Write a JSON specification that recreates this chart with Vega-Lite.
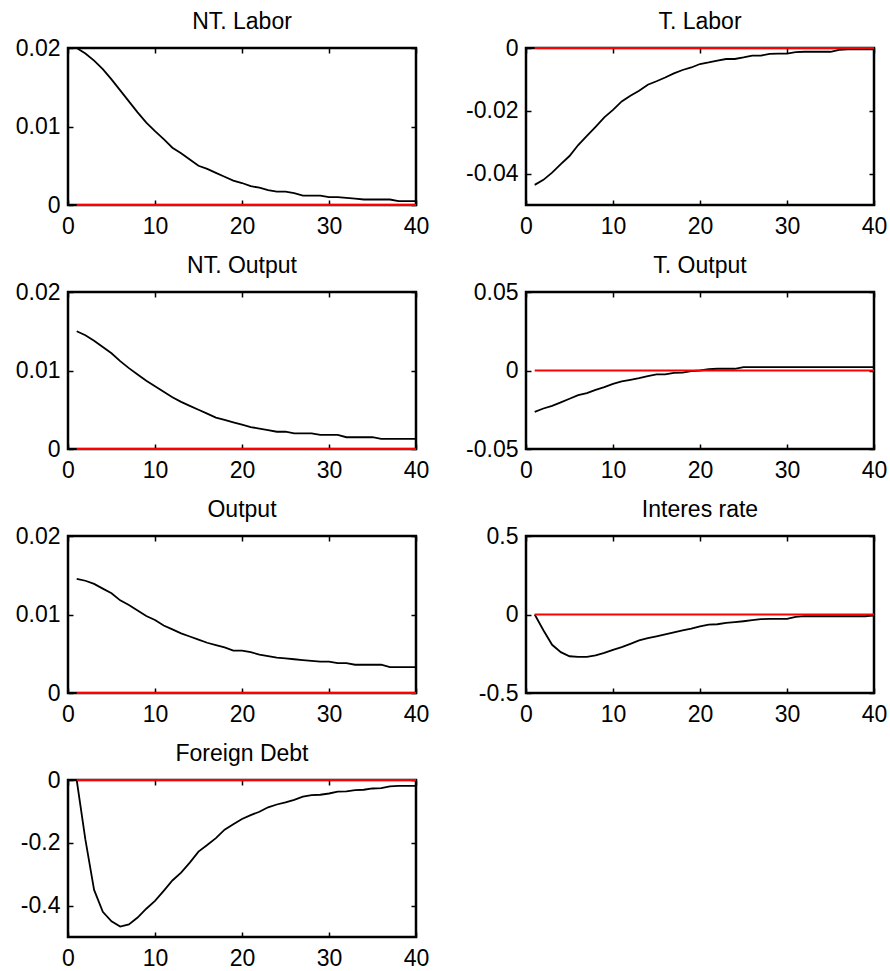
{
  "$schema": "https://vega.github.io/schema/vega-lite/v6.json",
  "background": "white",
  "padding": {"left": 13, "top": 9, "right": 5, "bottom": 5},
  "data": {"values": [
    {"t":1,"ntl":0.0200,"tl":-0.0436,"nto":0.0150,"to":-0.0263,"out":0.01455,"ir":0,"fd":0},
    {"t":2,"ntl":0.0193,"tl":-0.0420,"nto":0.0145,"to":-0.0242,"out":0.0143,"ir":-0.100,"fd":-0.190},
    {"t":3,"ntl":0.0184,"tl":-0.0397,"nto":0.0138,"to":-0.0225,"out":0.0139,"ir":-0.193,"fd":-0.350},
    {"t":4,"ntl":0.0173,"tl":-0.0370,"nto":0.0130,"to":-0.0203,"out":0.0133,"ir":-0.240,"fd":-0.420},
    {"t":5,"ntl":0.0160,"tl":-0.0344,"nto":0.0122,"to":-0.0180,"out":0.0127,"ir":-0.266,"fd":-0.450},
    {"t":6,"ntl":0.0146,"tl":-0.0309,"nto":0.0112,"to":-0.0157,"out":0.0118,"ir":-0.270,"fd":-0.467},
    {"t":7,"ntl":0.0132,"tl":-0.0280,"nto":0.0103,"to":-0.0144,"out":0.0112,"ir":-0.270,"fd":-0.460},
    {"t":8,"ntl":0.0118,"tl":-0.0251,"nto":0.0095,"to":-0.0123,"out":0.0105,"ir":-0.260,"fd":-0.438},
    {"t":9,"ntl":0.0105,"tl":-0.0221,"nto":0.0087,"to":-0.0106,"out":0.0098,"ir":-0.245,"fd":-0.410},
    {"t":10,"ntl":0.0094,"tl":-0.0197,"nto":0.0080,"to":-0.0085,"out":0.0093,"ir":-0.225,"fd":-0.385},
    {"t":11,"ntl":0.0084,"tl":-0.0170,"nto":0.0073,"to":-0.0070,"out":0.0086,"ir":-0.208,"fd":-0.353},
    {"t":12,"ntl":0.0073,"tl":-0.0152,"nto":0.0066,"to":-0.0059,"out":0.0081,"ir":-0.187,"fd":-0.320},
    {"t":13,"ntl":0.0066,"tl":-0.0136,"nto":0.0060,"to":-0.0049,"out":0.0076,"ir":-0.165,"fd":-0.295},
    {"t":14,"ntl":0.0058,"tl":-0.0117,"nto":0.0055,"to":-0.0036,"out":0.0072,"ir":-0.150,"fd":-0.263},
    {"t":15,"ntl":0.0050,"tl":-0.0106,"nto":0.0050,"to":-0.0025,"out":0.0068,"ir":-0.139,"fd":-0.228},
    {"t":16,"ntl":0.0046,"tl":-0.0094,"nto":0.0045,"to":-0.0025,"out":0.0064,"ir":-0.127,"fd":-0.207},
    {"t":17,"ntl":0.0041,"tl":-0.0081,"nto":0.0040,"to":-0.0015,"out":0.0061,"ir":-0.114,"fd":-0.185},
    {"t":18,"ntl":0.0036,"tl":-0.0070,"nto":0.0037,"to":-0.0013,"out":0.0058,"ir":-0.101,"fd":-0.158},
    {"t":19,"ntl":0.0031,"tl":-0.0062,"nto":0.0034,"to":-0.0004,"out":0.0054,"ir":-0.090,"fd":-0.141},
    {"t":20,"ntl":0.0028,"tl":-0.0051,"nto":0.0031,"to":0.0000,"out":0.0054,"ir":-0.075,"fd":-0.124},
    {"t":21,"ntl":0.0024,"tl":-0.0046,"nto":0.0028,"to":0.0008,"out":0.0052,"ir":-0.064,"fd":-0.112},
    {"t":22,"ntl":0.0022,"tl":-0.0040,"nto":0.0026,"to":0.0011,"out":0.0049,"ir":-0.062,"fd":-0.101},
    {"t":23,"ntl":0.0019,"tl":-0.0035,"nto":0.0024,"to":0.0011,"out":0.0047,"ir":-0.054,"fd":-0.087},
    {"t":24,"ntl":0.0017,"tl":-0.0035,"nto":0.0022,"to":0.0011,"out":0.0045,"ir":-0.049,"fd":-0.078},
    {"t":25,"ntl":0.0017,"tl":-0.0030,"nto":0.0022,"to":0.0021,"out":0.0044,"ir":-0.043,"fd":-0.071},
    {"t":26,"ntl":0.0015,"tl":-0.0024,"nto":0.0020,"to":0.0021,"out":0.0043,"ir":-0.036,"fd":-0.063},
    {"t":27,"ntl":0.0012,"tl":-0.0024,"nto":0.0020,"to":0.0021,"out":0.0042,"ir":-0.030,"fd":-0.053},
    {"t":28,"ntl":0.0012,"tl":-0.0019,"nto":0.0020,"to":0.0021,"out":0.0041,"ir":-0.028,"fd":-0.048},
    {"t":29,"ntl":0.0012,"tl":-0.0018,"nto":0.0018,"to":0.0021,"out":0.0040,"ir":-0.028,"fd":-0.047},
    {"t":30,"ntl":0.0010,"tl":-0.0018,"nto":0.0018,"to":0.0021,"out":0.0040,"ir":-0.028,"fd":-0.043},
    {"t":31,"ntl":0.0010,"tl":-0.0013,"nto":0.0018,"to":0.0021,"out":0.0038,"ir":-0.015,"fd":-0.037},
    {"t":32,"ntl":0.0009,"tl":-0.0012,"nto":0.0015,"to":0.0021,"out":0.0038,"ir":-0.011,"fd":-0.036},
    {"t":33,"ntl":0.0008,"tl":-0.0012,"nto":0.0015,"to":0.0021,"out":0.0036,"ir":-0.011,"fd":-0.032},
    {"t":34,"ntl":0.0007,"tl":-0.0012,"nto":0.0015,"to":0.0021,"out":0.0036,"ir":-0.011,"fd":-0.031},
    {"t":35,"ntl":0.0007,"tl":-0.0012,"nto":0.0015,"to":0.0021,"out":0.0036,"ir":-0.011,"fd":-0.027},
    {"t":36,"ntl":0.0007,"tl":-0.0006,"nto":0.0013,"to":0.0021,"out":0.0036,"ir":-0.011,"fd":-0.026},
    {"t":37,"ntl":0.0007,"tl":-0.0004,"nto":0.0013,"to":0.0021,"out":0.0033,"ir":-0.011,"fd":-0.020},
    {"t":38,"ntl":0.0005,"tl":-0.0004,"nto":0.0013,"to":0.0021,"out":0.0033,"ir":-0.011,"fd":-0.019},
    {"t":39,"ntl":0.0005,"tl":-0.0004,"nto":0.0013,"to":0.0021,"out":0.0033,"ir":-0.011,"fd":-0.019},
    {"t":40,"ntl":0.0005,"tl":-0.0004,"nto":0.0013,"to":0.0021,"out":0.0033,"ir":-0.005,"fd":-0.019}
  ]},
  "columns": 2,
  "spacing": {"row": 87, "column": 110},
  "bounds": "flush",
  "concat": [
    {
      "title": "NT. Labor", "width": 348, "height": 157,
      "resolve": {"axis": {"x": "independent", "y": "independent"}},
      "layer": [
        {"mark": {"type": "line", "color": "black", "strokeWidth": 1.8},
         "encoding": {
           "x": {"field": "t", "type": "quantitative", "scale": {"domain": [0, 40], "nice": false}, "axis": {"orient": "bottom", "values": [0,10,20,30,40], "title": null}},
           "y": {"field": "ntl", "type": "quantitative", "scale": {"domain": [0, 0.02], "nice": false}, "axis": {"orient": "left", "values": [0,0.01,0.02], "title": null, "labelExpr": "'' + datum.value"}}}},
        {"data": {"values": [{}]}, "mark": {"type": "rule", "color": "red", "strokeWidth": 2},
         "encoding": {
           "x": {"datum": 1, "type": "quantitative", "axis": {"orient": "top", "values": [0,10,20,30,40], "title": null}},
           "x2": {"datum": 40},
           "y": {"datum": 0, "type": "quantitative", "axis": {"orient": "right", "values": [0,0.01,0.02], "title": null}}}}
      ]
    },
    {
      "title": "T. Labor", "width": 348, "height": 157,
      "resolve": {"axis": {"x": "independent", "y": "independent"}},
      "layer": [
        {"mark": {"type": "line", "color": "black", "strokeWidth": 1.8},
         "encoding": {
           "x": {"field": "t", "type": "quantitative", "scale": {"domain": [0, 40], "nice": false}, "axis": {"orient": "bottom", "values": [0,10,20,30,40], "title": null}},
           "y": {"field": "tl", "type": "quantitative", "scale": {"domain": [-0.05, 0], "nice": false}, "axis": {"orient": "left", "values": [-0.04,-0.02,0], "title": null, "labelExpr": "'' + datum.value"}}}},
        {"data": {"values": [{}]}, "mark": {"type": "rule", "color": "red", "strokeWidth": 2},
         "encoding": {
           "x": {"datum": 1, "type": "quantitative", "axis": {"orient": "top", "values": [0,10,20,30,40], "title": null}},
           "x2": {"datum": 40},
           "y": {"datum": 0, "type": "quantitative", "axis": {"orient": "right", "values": [-0.04,-0.02,0], "title": null}}}}
      ]
    },
    {
      "title": "NT. Output", "width": 348, "height": 157,
      "resolve": {"axis": {"x": "independent", "y": "independent"}},
      "layer": [
        {"mark": {"type": "line", "color": "black", "strokeWidth": 1.8},
         "encoding": {
           "x": {"field": "t", "type": "quantitative", "scale": {"domain": [0, 40], "nice": false}, "axis": {"orient": "bottom", "values": [0,10,20,30,40], "title": null}},
           "y": {"field": "nto", "type": "quantitative", "scale": {"domain": [0, 0.02], "nice": false}, "axis": {"orient": "left", "values": [0,0.01,0.02], "title": null, "labelExpr": "'' + datum.value"}}}},
        {"data": {"values": [{}]}, "mark": {"type": "rule", "color": "red", "strokeWidth": 2},
         "encoding": {
           "x": {"datum": 1, "type": "quantitative", "axis": {"orient": "top", "values": [0,10,20,30,40], "title": null}},
           "x2": {"datum": 40},
           "y": {"datum": 0, "type": "quantitative", "axis": {"orient": "right", "values": [0,0.01,0.02], "title": null}}}}
      ]
    },
    {
      "title": "T. Output", "width": 348, "height": 157,
      "resolve": {"axis": {"x": "independent", "y": "independent"}},
      "layer": [
        {"mark": {"type": "line", "color": "black", "strokeWidth": 1.8},
         "encoding": {
           "x": {"field": "t", "type": "quantitative", "scale": {"domain": [0, 40], "nice": false}, "axis": {"orient": "bottom", "values": [0,10,20,30,40], "title": null}},
           "y": {"field": "to", "type": "quantitative", "scale": {"domain": [-0.05, 0.05], "nice": false}, "axis": {"orient": "left", "values": [-0.05,0,0.05], "title": null, "labelExpr": "'' + datum.value"}}}},
        {"data": {"values": [{}]}, "mark": {"type": "rule", "color": "red", "strokeWidth": 2},
         "encoding": {
           "x": {"datum": 1, "type": "quantitative", "axis": {"orient": "top", "values": [0,10,20,30,40], "title": null}},
           "x2": {"datum": 40},
           "y": {"datum": 0, "type": "quantitative", "axis": {"orient": "right", "values": [-0.05,0,0.05], "title": null}}}}
      ]
    },
    {
      "title": "Output", "width": 348, "height": 157,
      "resolve": {"axis": {"x": "independent", "y": "independent"}},
      "layer": [
        {"mark": {"type": "line", "color": "black", "strokeWidth": 1.8},
         "encoding": {
           "x": {"field": "t", "type": "quantitative", "scale": {"domain": [0, 40], "nice": false}, "axis": {"orient": "bottom", "values": [0,10,20,30,40], "title": null}},
           "y": {"field": "out", "type": "quantitative", "scale": {"domain": [0, 0.02], "nice": false}, "axis": {"orient": "left", "values": [0,0.01,0.02], "title": null, "labelExpr": "'' + datum.value"}}}},
        {"data": {"values": [{}]}, "mark": {"type": "rule", "color": "red", "strokeWidth": 2},
         "encoding": {
           "x": {"datum": 1, "type": "quantitative", "axis": {"orient": "top", "values": [0,10,20,30,40], "title": null}},
           "x2": {"datum": 40},
           "y": {"datum": 0, "type": "quantitative", "axis": {"orient": "right", "values": [0,0.01,0.02], "title": null}}}}
      ]
    },
    {
      "title": "Interes rate", "width": 348, "height": 157,
      "resolve": {"axis": {"x": "independent", "y": "independent"}},
      "layer": [
        {"mark": {"type": "line", "color": "black", "strokeWidth": 1.8},
         "encoding": {
           "x": {"field": "t", "type": "quantitative", "scale": {"domain": [0, 40], "nice": false}, "axis": {"orient": "bottom", "values": [0,10,20,30,40], "title": null}},
           "y": {"field": "ir", "type": "quantitative", "scale": {"domain": [-0.5, 0.5], "nice": false}, "axis": {"orient": "left", "values": [-0.5,0,0.5], "title": null, "labelExpr": "'' + datum.value"}}}},
        {"data": {"values": [{}]}, "mark": {"type": "rule", "color": "red", "strokeWidth": 2},
         "encoding": {
           "x": {"datum": 1, "type": "quantitative", "axis": {"orient": "top", "values": [0,10,20,30,40], "title": null}},
           "x2": {"datum": 40},
           "y": {"datum": 0, "type": "quantitative", "axis": {"orient": "right", "values": [-0.5,0,0.5], "title": null}}}}
      ]
    },
    {
      "title": "Foreign Debt", "width": 348, "height": 157,
      "resolve": {"axis": {"x": "independent", "y": "independent"}},
      "layer": [
        {"mark": {"type": "line", "color": "black", "strokeWidth": 1.8},
         "encoding": {
           "x": {"field": "t", "type": "quantitative", "scale": {"domain": [0, 40], "nice": false}, "axis": {"orient": "bottom", "values": [0,10,20,30,40], "title": null}},
           "y": {"field": "fd", "type": "quantitative", "scale": {"domain": [-0.5, 0], "nice": false}, "axis": {"orient": "left", "values": [-0.4,-0.2,0], "title": null, "labelExpr": "'' + datum.value"}}}},
        {"data": {"values": [{}]}, "mark": {"type": "rule", "color": "red", "strokeWidth": 2},
         "encoding": {
           "x": {"datum": 1, "type": "quantitative", "axis": {"orient": "top", "values": [0,10,20,30,40], "title": null}},
           "x2": {"datum": 40},
           "y": {"datum": 0, "type": "quantitative", "axis": {"orient": "right", "values": [-0.4,-0.2,0], "title": null}}}}
      ]
    }
  ],
  "config": {
    "view": {"stroke": "black", "strokeWidth": 2.5},
    "axis": {"grid": false, "domain": false, "ticks": true, "tickColor": "black", "tickWidth": 1.5, "tickSize": -5, "labelFont": "Liberation Sans", "labelFontSize": 23, "labelColor": "black", "labelFlush": false, "labelOverlap": false},
    "axisBottom": {"labelPadding": 15},
    "axisLeft": {"labelPadding": 13},
    "axisTop": {"labels": false},
    "axisRight": {"labels": false},
    "title": {"font": "Liberation Sans", "fontSize": 23, "fontWeight": "normal", "color": "black", "anchor": "middle", "frame": "group", "offset": 3, "baseline": "alphabetic"}
  }
}
